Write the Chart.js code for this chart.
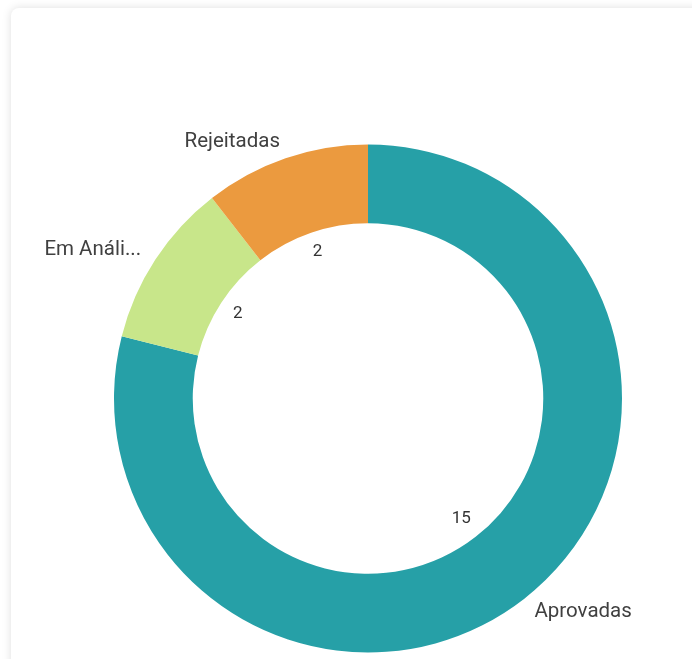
<!DOCTYPE html>
<html>
<head>
<meta charset="utf-8">
<script src="https://cdn.jsdelivr.net/npm/chart.js@4"></script>
<style>
  html, body { margin: 0; padding: 0; background: #fff; overflow: hidden; }
  #card {
    position: absolute; left: 11px; top: 8px; width: 720px; height: 700px;
    background: #fff; border-radius: 8px;
    box-shadow: 0 0 10px rgba(0,0,0,0.13);
  }
  #wrap { position: absolute; left: 0; top: 0; width: 692px; height: 659px; }
</style>
</head>
<body>
<div id="card"></div>
<div id="wrap"><canvas id="myChart"></canvas></div>
<script>
var categories = ["Aprovadas", "Em Análise", "Rejeitadas"];
var values = [15, 2, 2];
var sliceColors = ["#26A0A7", "#C8E68A", "#EB9A3F"];

// draws value labels inside the hole and category labels outside the ring
var sliceLabels = {
  id: "sliceLabels",
  afterDatasetsDraw: function (chart) {
    var ctx = chart.ctx;
    var arcs = chart.getDatasetMeta(0).data;
    ctx.save();
    arcs.forEach(function (arc, i) {
      var mid = (arc.startAngle + arc.endAngle) / 2;
      var c = Math.cos(mid), s = Math.sin(mid);

      // value inside
      ctx.font = "17px Roboto";
      ctx.fillStyle = "#333";
      ctx.textAlign = "center";
      ctx.textBaseline = "middle";
      var txt = String(values[i]);
      var w = ctx.measureText(txt).width;
      var proj = Math.abs(c) * w / 2 + Math.abs(s) * 7;
      var r = arc.innerRadius - 12 - proj;
      ctx.fillText(txt, arc.x + c * r, arc.y + s * r);

      // category outside
      ctx.font = "20.5px Roboto";
      ctx.fillStyle = "#404040";
      var ro = arc.outerRadius + 17;
      var ax = arc.x + c * ro, ay = arc.y + s * ro;
      var label = categories[i];
      var room = c >= 0 ? 680 - ax : ax - 44;
      if (ctx.measureText(label).width > room) {
        while (label.length > 1 && ctx.measureText(label + "...").width > room) {
          label = label.slice(0, -1);
        }
        label = label + "...";
      }
      ctx.textAlign = c >= 0 ? "left" : "right";
      ctx.fillText(label, ax, ay);
    });
    ctx.restore();
  }
};

new Chart("myChart", {
  type: "doughnut",
  data: {
    labels: categories,
    datasets: [
      {
        data: values,
        backgroundColor: sliceColors,
        borderWidth: 0,
      },
    ],
  },
  options: {
    responsive: true,
    maintainAspectRatio: false,
    animation: false,
    cutout: "69%",
    layout: { padding: { left: 114, right: 70, top: 144, bottom: 6 } },
    plugins: {
      legend: { display: false },
      tooltip: { enabled: false },
    },
  },
  plugins: [sliceLabels],
});
</script>
</body>
</html>
